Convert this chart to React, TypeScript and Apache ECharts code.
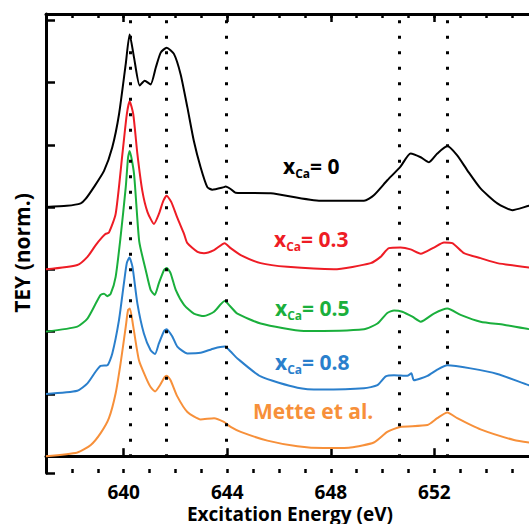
import React, { useEffect, useRef } from "react";
import * as echarts from "echarts";

// Energy range (eV) and tick labels
const xMin = 637;
const xMax = 656;
const xTickLabels = [640, 644, 648, 652];
// Normalised TEY axis: each spectrum is offset by one unit
const yMin = -0.27;
const yMax = 7.1;
const curveOffsets = [4, 3, 2, 1, 0];
// Positions of the vertical dotted guide lines (eV)
const guideEnergies = [640.25, 641.65, 643.95, 650.65, 652.5];
const guideTop = 7;
const guideBottom = 0;

const seriesNames = ["x_Ca = 0", "x_Ca = 0.3", "x_Ca = 0.5", "x_Ca = 0.8", "Mette et al."];
const seriesColors = ["#000000", "#ee1c25", "#1aaf3c", "#2a7fcc", "#f7903a"];

const blackCurve = [
  [637.0, 0.0], [637.8, 0.02], [638.34, 0.06], [638.53, 0.13], [638.85, 0.32], [639.24, 0.58],
  [639.56, 0.96], [639.82, 1.49], [640.08, 2.3], [640.23, 2.77], [640.4, 2.4], [640.62, 1.95],
  [640.81, 2.03], [641.04, 1.97], [641.24, 2.24], [641.43, 2.48], [641.66, 2.56], [641.94, 2.46],
  [642.2, 2.13], [642.46, 1.6], [642.71, 1.06], [642.97, 0.64], [643.23, 0.32], [643.42, 0.28],
  [643.87, 0.32], [643.94, 0.33], [644.13, 0.29], [644.32, 0.23], [645.68, 0.22], [647.61, 0.1],
  [649.28, 0.1], [649.66, 0.19], [650.18, 0.43], [650.69, 0.65], [651.08, 0.86], [651.47, 0.8],
  [651.79, 0.72], [652.11, 0.86], [652.5, 0.98], [652.88, 0.83], [653.27, 0.59], [653.78, 0.3],
  [654.43, 0.06], [655.01, -0.05], [655.65, 0.02], [656.0, 0.04],
];
const redCurve = [
  [637.0, 0.0], [638.21, 0.07], [638.6, 0.2], [638.92, 0.39], [639.18, 0.52], [639.3, 0.57],
  [639.43, 0.59], [639.69, 0.89], [639.95, 1.85], [640.12, 2.49], [640.23, 2.7], [640.37, 2.49],
  [640.53, 1.85], [640.72, 1.26], [640.92, 0.92], [641.17, 0.73], [641.36, 0.89], [641.53, 1.1],
  [641.66, 1.18], [641.84, 1.08], [642.07, 0.83], [642.33, 0.57], [642.46, 0.42], [642.85, 0.28],
  [643.1, 0.26], [643.49, 0.31], [643.9, 0.42], [644.13, 0.34], [644.52, 0.23], [645.29, 0.1],
  [646.32, 0.04], [648.12, 0.0], [649.54, 0.1], [649.92, 0.2], [650.24, 0.34], [650.69, 0.35],
  [651.08, 0.32], [651.47, 0.25], [651.98, 0.35], [652.37, 0.43], [652.69, 0.42], [653.14, 0.26],
  [653.78, 0.18], [654.43, 0.1], [655.65, 0.03], [656.0, 0.02],
];
const greenCurve = [
  [637.0, 0.0], [638.21, 0.08], [638.6, 0.21], [638.92, 0.45], [639.11, 0.59], [639.24, 0.61],
  [639.37, 0.57], [639.5, 0.61], [639.69, 0.88], [639.88, 1.52], [640.08, 2.32], [640.17, 2.8],
  [640.23, 2.9], [640.4, 2.53], [640.6, 1.45], [640.85, 0.99], [641.04, 0.67], [641.2, 0.59],
  [641.36, 0.78], [641.56, 0.99], [641.66, 1.02], [641.81, 0.94], [642.01, 0.67], [642.33, 0.43],
  [642.71, 0.29], [643.1, 0.25], [643.49, 0.32], [643.9, 0.49], [644.13, 0.4], [644.39, 0.29],
  [645.29, 0.13], [646.96, 0.01], [649.28, 0.04], [649.8, 0.13], [650.18, 0.3], [650.44, 0.34],
  [650.76, 0.32], [651.15, 0.24], [651.47, 0.16], [651.98, 0.29], [652.5, 0.37], [653.01, 0.27],
  [653.78, 0.16], [654.68, 0.11], [655.65, 0.04], [656.0, 0.03],
];
const blueCurve = [
  [637.0, 0.0], [638.21, 0.05], [638.6, 0.17], [638.92, 0.36], [639.11, 0.45], [639.37, 0.46],
  [639.56, 0.65], [639.82, 1.19], [640.01, 1.78], [640.12, 2.1], [640.22, 2.19], [640.34, 2.04],
  [640.53, 1.45], [640.78, 0.97], [641.04, 0.7], [641.21, 0.64], [641.36, 0.81], [641.56, 1.01],
  [641.66, 1.04], [641.88, 0.92], [642.07, 0.76], [642.46, 0.65], [642.97, 0.66], [643.49, 0.73],
  [643.9, 0.76], [644.13, 0.68], [644.39, 0.57], [645.29, 0.28], [646.71, 0.1], [647.61, 0.07],
  [649.28, 0.09], [649.8, 0.14], [650.12, 0.28], [650.44, 0.3], [650.95, 0.29], [651.11, 0.33],
  [651.21, 0.22], [651.73, 0.29], [652.11, 0.39], [652.5, 0.46], [653.4, 0.41], [654.43, 0.32],
  [655.65, 0.14], [656.0, 0.1],
];
const orangeCurve = [
  [637.0, 0.0], [638.21, 0.06], [638.73, 0.18], [639.11, 0.37], [639.43, 0.61], [639.69, 1.01],
  [639.88, 1.49], [640.08, 2.08], [640.17, 2.35], [640.24, 2.37], [640.37, 2.08], [640.59, 1.54],
  [640.85, 1.27], [641.04, 1.11], [641.21, 1.04], [641.4, 1.14], [641.58, 1.27], [641.66, 1.29],
  [641.81, 1.22], [642.07, 0.96], [642.46, 0.71], [642.97, 0.59], [643.49, 0.61], [643.87, 0.55],
  [644.13, 0.47], [644.52, 0.39], [645.55, 0.25], [646.71, 0.16], [647.73, 0.13], [648.76, 0.14],
  [649.66, 0.22], [650.18, 0.39], [650.67, 0.47], [651.73, 0.5], [652.11, 0.61], [652.5, 0.7],
  [652.88, 0.61], [653.78, 0.43], [655.07, 0.26], [655.68, 0.22], [656.0, 0.21],
];
const curves = [blackCurve, redCurve, greenCurve, blueCurve, orangeCurve];

const FONT = "'Open Sans', 'DejaVu Sans', sans-serif";

// label layout: [left x, center y]
const labelPos = [
  [283, 166],
  [274, 239],
  [275, 308],
  [275, 362],
  [253, 411],
];

function richLabel(name: string, color: string) {
  const big = { fontSize: 21, fontWeight: "bold", fontFamily: FONT, fill: color, lineHeight: 26 };
  const small = { fontSize: 12, fontWeight: "bold", fontFamily: FONT, fill: color, lineHeight: 14, verticalAlign: "bottom" };
  if (name.startsWith("x_Ca")) {
    const rest = name.replace("x_Ca", "").trim();
    return { text: `{a|x}{b|Ca}{a|${rest}}`, rich: { a: big, b: small } };
  }
  return { text: `{a|${name}}`, rich: { a: big, b: small } };
}

export default function App() {
  const ref = useRef<HTMLDivElement>(null);
  useEffect(() => {
    if (!ref.current) return;
    const chart = echarts.init(ref.current, undefined, { renderer: "svg" });
    const axisLine = { show: true, lineStyle: { color: "#000", width: 3 } };
    const majorTick = { show: true, inside: true, length: 8, lineStyle: { color: "#000", width: 2.5 } };
    const minorTick = { show: true, inside: true, length: 4, lineStyle: { color: "#000", width: 2.5 } };
    const xBase = { type: "value", min: xMin, max: xMax, splitLine: { show: false } };
    const option: any = {
      animation: false,
      backgroundColor: "#fff",
      grid: { left: 46, top: 14, width: 492, height: 459, containLabel: false },
      xAxis: [
        {
          ...xBase,
          position: "bottom",
          minInterval: 4,
          maxInterval: 4,
          axisLine,
          axisTick: majorTick,
          axisLabel: {
            show: true,
            margin: 9,
            fontSize: 19,
            fontWeight: "bold",
            fontFamily: FONT,
            color: "#000",
            formatter: (v: number) => (xTickLabels.includes(Math.round(v)) && Math.abs(v - Math.round(v)) < 1e-6 ? String(Math.round(v)) : ""),
          },
        },
        { ...xBase, position: "bottom", interval: 1, axisLine: { show: false }, axisTick: minorTick, axisLabel: { show: false } },
        { ...xBase, position: "top", minInterval: 4, maxInterval: 4, axisLine, axisTick: majorTick, axisLabel: { show: false } },
        { ...xBase, position: "top", interval: 1, axisLine: { show: false }, axisTick: minorTick, axisLabel: { show: false } },
      ],
      yAxis: [
        {
          type: "value",
          min: yMin,
          max: yMax,
          minInterval: 1,
          maxInterval: 1,
          position: "left",
          axisLine,
          axisTick: { show: true, inside: true, length: 9, lineStyle: { color: "#000", width: 2.5 } },
          axisLabel: { show: false },
          splitLine: { show: false },
        },
      ],
      series: [
        ...curves.map((c, i) => ({
          name: seriesNames[i],
          type: "line",
          xAxisIndex: 0,
          yAxisIndex: 0,
          showSymbol: false,
          symbol: "none",
          smooth: 0.2,
          data: c.map(([e, v]) => [e, v + curveOffsets[i]]),
          lineStyle: { color: seriesColors[i], width: 2 },
          itemStyle: { color: seriesColors[i] },
          silent: true,
        })),
        {
          name: "guides",
          type: "line",
          data: [],
          silent: true,
          markLine: {
            silent: true,
            symbol: ["none", "none"],
            label: { show: false },
            lineStyle: { color: "#000", width: 3, type: [3, 12.5], cap: "butt" },
            data: guideEnergies.map((e) => [{ coord: [e, guideTop] }, { coord: [e, guideBottom] }]),
          },
        },
      ],
      graphic: [
        ...seriesNames.map((n, i) => ({
          type: "text",
          x: labelPos[i][0],
          y: labelPos[i][1],
          style: { ...richLabel(n, seriesColors[i]), fill: seriesColors[i], align: "left", verticalAlign: "middle" },
        })),
        {
          type: "text",
          x: 22,
          y: 253,
          rotation: Math.PI / 2,
          style: { text: "TEY (norm.)", align: "center", verticalAlign: "middle", fontSize: 21, fontWeight: "bold", fontFamily: FONT, fill: "#000" },
        },
        {
          type: "text",
          x: 290,
          y: 514,
          style: { text: "Excitation Energy (eV)", align: "center", verticalAlign: "middle", fontSize: 19, fontWeight: "bold", fontFamily: FONT, fill: "#000" },
        },
      ],
    };
    chart.setOption(option);
    return () => chart.dispose();
  }, []);
  return (
    <div style={{ position: "fixed", left: 0, top: 0, width: 529, height: 524, overflow: "hidden", background: "#fff" }}>
      <div ref={ref} style={{ width: 560, height: 524 }} />
    </div>
  );
}
